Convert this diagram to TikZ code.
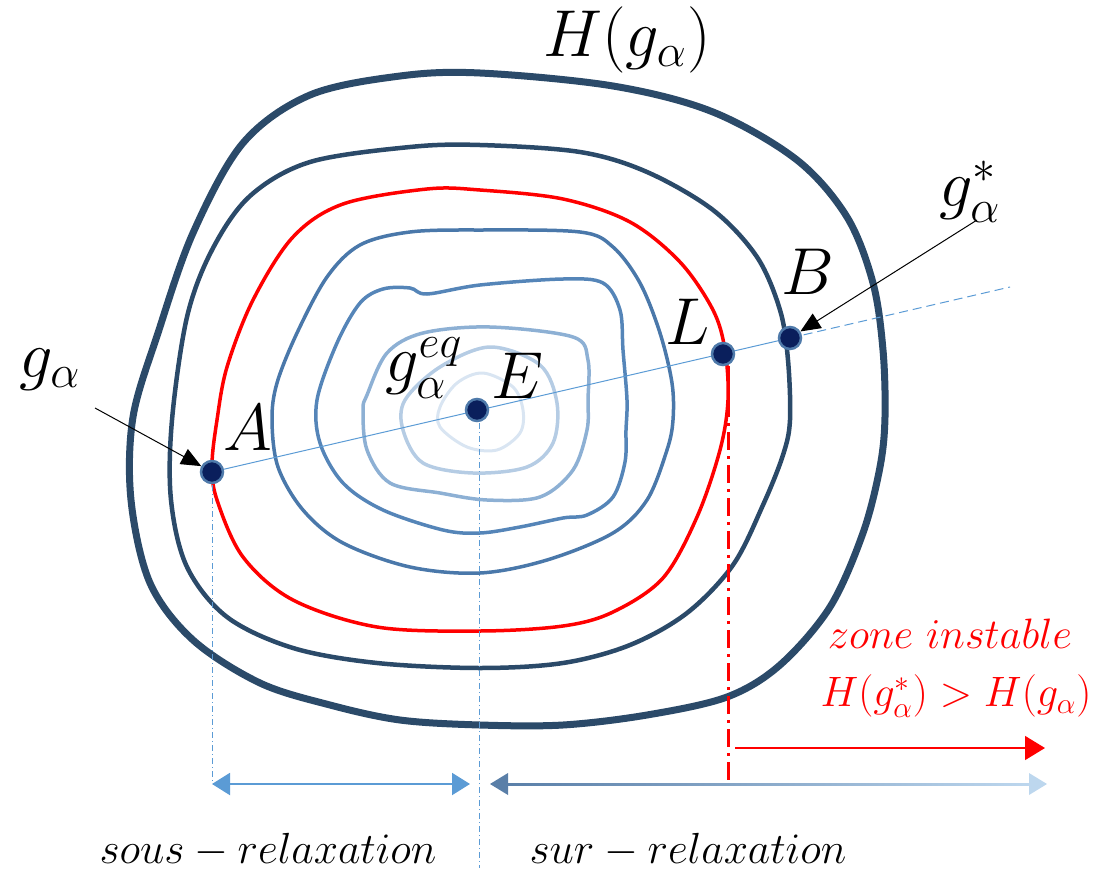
\documentclass[tikz,border=0pt]{standalone}
\usepackage{graphicx}
\usetikzlibrary{arrows.meta}
\definecolor{navy}{HTML}{2B4A69}
\definecolor{bl4}{HTML}{4A78AA}
\definecolor{bl5}{HTML}{5585B8}
\definecolor{bl6}{HTML}{8DB0D4}
\definecolor{bl7}{HTML}{B5CCE4}
\definecolor{bl8}{HTML}{D9E5F2}
\definecolor{ptfill}{HTML}{0A1F5C}
\definecolor{ptring}{HTML}{4F7AAA}
\definecolor{axisblue}{HTML}{5B9BD5}
\definecolor{darkhead}{HTML}{5A7FA8}
\definecolor{lighthead}{HTML}{BDD7EE}
\newcommand{\MyBig}[2]{\scalebox{#1}{\fontsize{20.74}{25}\selectfont$#2$}}
\tikzset{
  contour/.style={line join=round, smooth cycle, tension=0.55},
  pt/.style={circle, fill=ptfill, draw=ptring, line width=2.5pt, minimum size=22pt, inner sep=0pt},
  lbl/.style={inner sep=0pt},
  redlbl/.style={inner sep=0pt, text=red},
  axisline/.style={axisblue, line width=1pt},
  guide/.style={axisblue, line width=0.8pt, dash pattern=on 6pt off 3pt on 1pt off 3pt},
  pointer/.style={black, line width=1pt, -{Triangle[length=20pt, width=17pt]}},
}
\begin{document}
\begin{tikzpicture}[x=1pt, y=-1pt]
\useasboundingbox (0,0) rectangle (1104,873);

% contours
\draw[navy, line width=7pt] plot[contour] coordinates {(480,73) (613,86) (713,112) (797,160) (847,217) (873,283) (883,350) (885,417) (880,467) (863,533) (830,607) (780,665) (727,697) (647,715) (563,725) (480,725) (400,720) (330,705) (260,683) (193,640) (150,583) (131,500) (133,417) (158,333) (193,233) (243,143) (310,95) (400,76)};
\draw[navy, line width=4.5pt] plot[contour] coordinates {(480,145) (580,152) (647,172) (713,210) (757,257) (780,310) (788,360) (790,420) (783,455) (763,505) (733,565) (687,613) (630,645) (563,663) (480,668) (377,663) (293,648) (227,617) (187,567) (171,500) (172,420) (187,317) (212,250) (250,196) (310,162) (410,147)};
\draw[red, line width=3.5pt] plot[contour] coordinates {(480,190) (563,199) (630,222) (680,262) (713,310) (725,350) (728,400) (720,450) (697,517) (663,578) (613,612) (563,626) (480,631) (377,627) (293,600) (243,557) (217,500) (212,465) (217,420) (227,367) (253,300) (293,237) (343,204) (427,189)};
\draw[bl4, line width=3.5pt] plot[contour] coordinates {(480,230) (580,232) (613,247) (640,283) (660,333) (672,383) (673,420) (667,450) (647,500) (613,533) (547,560) (480,573) (410,567) (343,543) (303,510) (278,467) (272,420) (277,383) (297,333) (327,277) (360,245) (410,232)};
\draw[bl5, line width=3.5pt] plot[contour] coordinates {(480,285) (563,279) (603,283) (620,310) (623,350) (627,400) (626,430) (625,462) (613,497) (587,515) (563,518) (520,527) (480,533) (443,530) (383,510) (343,483) (320,443) (317,400) (337,343) (360,303) (383,289) (410,288) (427,294)};
\draw[bl6, line width=3.5pt] plot[contour] coordinates {(490,327) (573,337) (588,360) (588,400) (587,430) (573,470) (540,497) (487,500) (440,493) (390,483) (367,450) (363,410) (367,395) (387,353) (423,333)};
\draw[bl7, line width=3.5pt] plot[contour] coordinates {(490,347) (540,365) (557,403) (553,443) (527,467) (473,473) (423,463) (403,430) (405,400) (440,367)};
\draw[bl8, line width=3pt] plot[contour] coordinates {(483,373) (513,387) (523,410) (520,433) (497,450) (467,447) (440,427) (440,407) (457,383)};

% guide lines and axis
\coordinate (far) at (1010,287);
\coordinate (Abot) at (212,782);
\coordinate (Ebot) at (479,868);
\coordinate (Ltop) at (728,366);
\coordinate (Lbot) at (728,782);
\draw[axisline] (212,472) -- (790,338);
\draw[axisline, dash pattern=on 9pt off 5pt] (790,338) -- (far);
\draw[guide] (212,472) -- (Abot);
\draw[guide] (479,410) -- (Ebot);
\draw[red, line width=3pt, dash pattern=on 18pt off 6pt on 3pt off 6pt] (Ltop) -- (Lbot);

% points
\node[pt] (A) at (212,472) {};
\node[pt] (E) at (477,410) {};
\node[pt] (L) at (723,354) {};
\node[pt] (B) at (790,338) {};

% labels
\node[lbl] (Alab) at (248,428) {\MyBig{3.2}{A}};
\node[lbl] (Blab) at (808,272) {\MyBig{3.2}{B}};
\node[lbl] (Llab) at (688,322) {\MyBig{3.2}{L}};
\node[lbl] (Elab) at (517,376) {\MyBig{3.2}{E}};
\node[lbl, anchor=east] (eqlab) at (463,368) {\MyBig{3.2}{g_\alpha^{eq}}};
\node[lbl] (Hlab) at (627,40) {\MyBig{3.2}{H(g_\alpha)}};
\node[lbl] (galab) at (50,370) {\MyBig{3.2}{g_\alpha}};
\node[lbl] (gslab) at (970,192) {\MyBig{3.2}{g_\alpha^*}};

\coordinate (gastart) at (95,408);
\coordinate (gsstart) at (977,220);
\draw[pointer] (gastart) -- (A);
\draw[pointer] (gsstart) -- (B);

% bottom arrows
\draw[axisblue, line width=2pt, {Triangle[length=18pt, width=22pt]}-{Triangle[length=18pt, width=22pt]}] (Abot |- 0,784) -- (470,784);
\shade[left color=darkhead, right color=lighthead] (505,783) rectangle (1030,785.5);
\fill[darkhead] (490,784) -- (508,773) -- (508,795) -- cycle;
\fill[lighthead] (1047,784) -- (1029,773) -- (1029,795) -- cycle;
\draw[red, line width=1.5pt, -{Triangle[length=20pt, width=24pt]}] (735,748) -- (1045,748);

\node[lbl] (sous) at (268,850) {\MyBig{2.1}{sous - relaxation}};
\node[lbl] (sur) at (688,850) {\MyBig{2.1}{sur - relaxation}};
\node[redlbl] (zone) at (950,634) {\MyBig{2.05}{zone\ instable}};
\node[redlbl] (ineq) at (956,696) {\MyBig{2.05}{H(g_\alpha^*) > H(g_\alpha)}};
\end{tikzpicture}
\end{document}
